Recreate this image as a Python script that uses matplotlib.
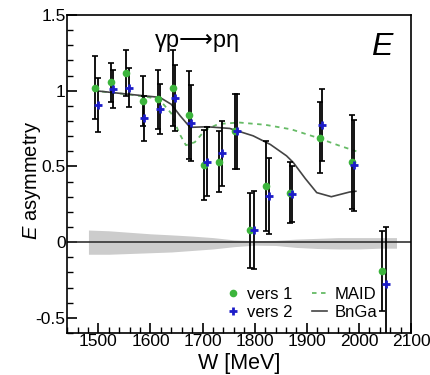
import matplotlib
matplotlib.use("Agg")
import matplotlib.pyplot as plt
from matplotlib.ticker import MultipleLocator

plt.rcParams['font.family'] = ['Liberation Sans', 'DejaVu Sans']
plt.rcParams['mathtext.fontset'] = 'custom'
plt.rcParams['mathtext.it'] = 'Liberation Sans:italic'
plt.rcParams['mathtext.rm'] = 'Liberation Sans'

# version 1 (green dots)
w1 = [1494, 1524, 1554, 1585, 1615, 1644, 1673, 1703, 1732, 1763, 1791, 1821, 1867, 1925, 1987, 2044]
e1 = [1.02, 1.055, 1.117, 0.934, 0.945, 1.016, 0.839, 0.51, 0.532, 0.731, 0.077, 0.371, 0.327, 0.691, 0.53, -0.192]
err1 = [0.21, 0.13, 0.15, 0.165, 0.195, 0.25, 0.29, 0.23, 0.2, 0.245, 0.25, 0.3, 0.2, 0.236, 0.31, 0.265]

# version 2 (blue crosses)
w2 = [1500, 1529, 1559, 1588, 1619, 1648, 1678, 1708, 1737, 1766, 1798, 1828, 1872, 1930, 1991, 2051]
e2 = [0.907, 1.011, 1.02, 0.817, 0.879, 0.952, 0.786, 0.532, 0.587, 0.731, 0.08, 0.305, 0.316, 0.773, 0.508, -0.274]
err2 = [0.18, 0.125, 0.13, 0.15, 0.165, 0.215, 0.25, 0.23, 0.215, 0.245, 0.26, 0.248, 0.185, 0.236, 0.3, 0.374]

# model curves
maid_w = [1490, 1520, 1560, 1600, 1620, 1640, 1655, 1668, 1685, 1705, 1730, 1770, 1820, 1870, 1920, 1960, 1995]
maid_e = [1.0, 0.99, 0.975, 0.955, 0.93, 0.85, 0.72, 0.64, 0.66, 0.74, 0.78, 0.79, 0.775, 0.745, 0.69, 0.64, 0.6]
bnga_w = [1494, 1554, 1618, 1640, 1657, 1676, 1708, 1752, 1797, 1830, 1861, 1874, 1897, 1919, 1947, 1982, 1994]
bnga_e = [1.0, 0.978, 0.956, 0.91, 0.834, 0.758, 0.762, 0.751, 0.702, 0.645, 0.57, 0.526, 0.42, 0.327, 0.30, 0.331, 0.336]

# systematic uncertainty band
band_w = [1481, 1520, 1560, 1600, 1640, 1680, 1720, 1760, 1800, 1840, 1880, 1920, 1960, 2000, 2040, 2072]
band_hi = [0.08, 0.075, 0.065, 0.055, 0.048, 0.04, 0.03, 0.015, 0.01, 0.012, 0.02, 0.025, 0.03, 0.03, 0.03, 0.03]
band_lo = [-0.08, -0.08, -0.075, -0.07, -0.065, -0.055, -0.045, -0.03, -0.02, -0.022, -0.035, -0.042, -0.045, -0.045, -0.04, -0.04]

fig = plt.figure(figsize=(4.3, 3.75), dpi=100)
ax = fig.add_axes([0.156, 0.112, 0.8, 0.848])

ax.fill_between(band_w, band_lo, band_hi, color='#cccccc', linewidth=0, zorder=1)
ax.axhline(0, color='#333333', linewidth=1.2, zorder=2)

ax.plot(maid_w, maid_e, color='#66bb66', linestyle=(0, (2.5, 2.5)), linewidth=1.3, label='MAID', zorder=3)
ax.plot(bnga_w, bnga_e, color='#444444', linestyle='-', linewidth=1.2, label='BnGa', zorder=3)

ax.errorbar(w1, e1, yerr=err1, fmt='none', ecolor='black', elinewidth=1.3, capsize=2.5, capthick=1.2, zorder=4)
ax.errorbar(w2, e2, yerr=err2, fmt='none', ecolor='black', elinewidth=1.3, capsize=2.5, capthick=1.2, zorder=4)
ax.plot(w1, e1, 'o', color='#3cb43c', markersize=5.5, markeredgewidth=0, label='vers 1', zorder=5)
ax.plot(w2, e2, '+', color='#1c1cc8', markersize=6, markeredgewidth=2, label='vers 2', zorder=6)

ax.set_xlim(1440, 2100)
ax.set_ylim(-0.6, 1.5)
ax.xaxis.set_major_locator(MultipleLocator(100))
ax.xaxis.set_minor_locator(MultipleLocator(20))
ax.yaxis.set_minor_locator(MultipleLocator(0.1))
ax.set_yticks([-0.5, 0, 0.5, 1, 1.5])
ax.set_yticklabels(['-0.5', '0', '0.5', '1', '1.5'])
ax.tick_params(which='major', direction='in', length=7, width=1.2, labelsize=12.5, pad=1)
ax.tick_params(which='minor', direction='in', length=4, width=1.0)
ax.tick_params(top=False, right=False)
for s in ax.spines.values():
    s.set_linewidth(1.2)

ax.set_xlabel('W [MeV]', fontsize=15.5)
ax.xaxis.set_label_coords(0.5, -0.062)
ax.set_ylabel('$E$ asymmetry', fontsize=14.5)
ax.yaxis.set_label_coords(-0.07, 0.48)

ax.text(1691, 1.33, 'γp⟶pη', fontsize=17, ha='center', va='center')
ax.text(2046, 1.29, '$E$', fontsize=23, ha='center', va='center')

h, l = ax.get_legend_handles_labels()
order = [2, 3, 0, 1]
ax.legend([h[i] for i in order], [l[i] for i in order], ncol=2, loc='lower left',
          bbox_to_anchor=(0.46, 0.041), frameon=False, fontsize=12, handlelength=0.9,
          handletextpad=0.4, columnspacing=1.2, labelspacing=0.2, borderaxespad=0,
          borderpad=0)

fig.savefig('out.png', dpi=100)
